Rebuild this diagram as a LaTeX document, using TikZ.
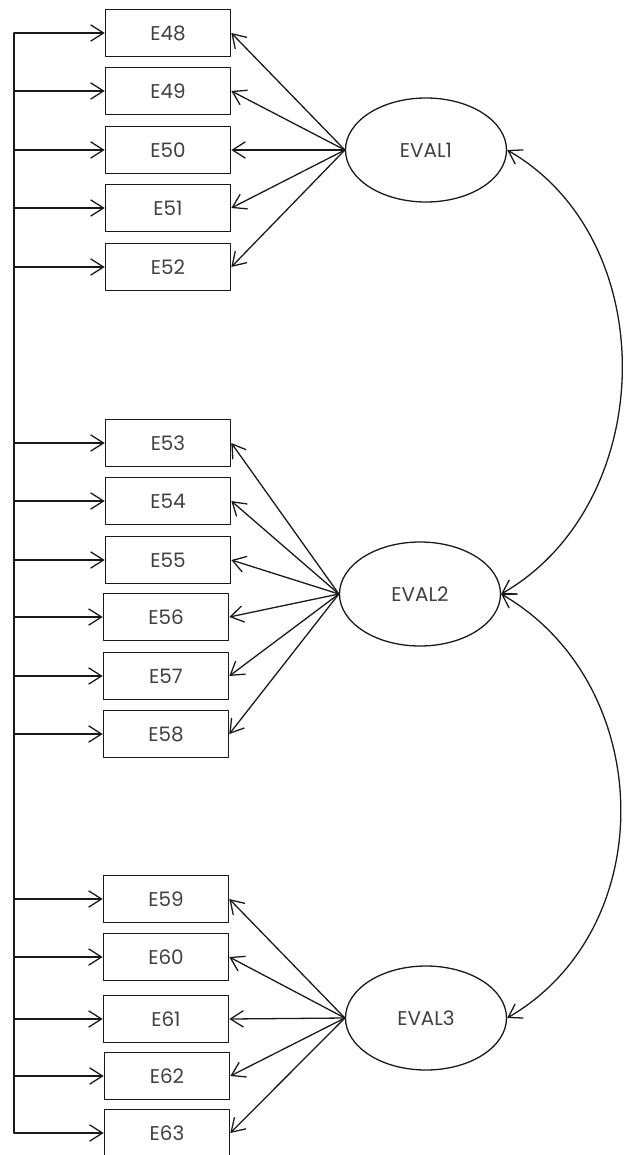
\documentclass[tikz,border=0pt]{standalone}
\usepackage{fontspec}
\setmainfont{Poppins}
\usetikzlibrary{arrows.meta,shapes.geometric}

\begin{document}
\begin{tikzpicture}
% Measurement model: three EVAL factors and their items
\def\pxsz{0.03cm}
\providecommand{\semLineColor}{black!90}
\providecommand{\semTextColor}{black!75}
\providecommand{\semLineWidth}{1.1pt}
\providecommand{\semBoxLineWidth}{1.4pt}
\tikzset{
  itembox/.style={draw=\semLineColor, line width=\semBoxLineWidth, rectangle,
    minimum width=3.75cm, minimum height=1.41cm, inner sep=0pt,
    text=\semTextColor, font=\fontsize{17}{20}\selectfont},
  factor/.style={draw=\semLineColor, line width=\semLineWidth, ellipse,
    minimum width=4.83cm, minimum height=3.12cm, inner sep=0pt,
    text=\semTextColor, font=\fontsize{17}{20}\selectfont},
  load/.style={draw=\semLineColor, line width=\semLineWidth,
    -{Straight Barb[length=11pt,width=14pt]}},
  covar/.style={draw=\semLineColor, line width=\semLineWidth,
    {Straight Barb[length=11pt,width=14pt]}-{Straight Barb[length=11pt,width=14pt]}}
}
\begin{scope}[x=\pxsz, y=-\pxsz, line cap=round, line join=round]
  \useasboundingbox (0,0) rectangle (640,1155);
  % Items, group 1
  \node[itembox] (E48) at (168,33) {E48};
  \node[itembox] (E49) at (168,91) {E49};
  \node[itembox] (E50) at (168,150) {E50};
  \node[itembox] (E51) at (168,208) {E51};
  \node[itembox] (E52) at (168,267) {E52};
  % Items, group 2
  \node[itembox] (E53) at (168,443) {E53};
  \node[itembox] (E54) at (168,501) {E54};
  \node[itembox] (E55) at (168,560) {E55};
  \node[itembox] (E56) at (166,617) {E56};
  \node[itembox] (E57) at (166,676) {E57};
  \node[itembox] (E58) at (166,734) {E58};
  % Items, group 3
  \node[itembox] (E59) at (166,899) {E59};
  \node[itembox] (E60) at (166,957) {E60};
  \node[itembox] (E61) at (166,1019) {E61};
  \node[itembox] (E62) at (167,1076) {E62};
  \node[itembox] (E63) at (167,1133) {E63};
  % Factors
  \node[factor] (EVAL1) at (426,150) {EVAL1};
  \node[factor] (EVAL2) at (420,594) {EVAL2};
  \node[factor] (EVAL3) at (426,1018) {EVAL3};
  % Error trunk on the left
  \coordinate (trunk) at (14,0);
  \draw[draw=\semLineColor, line width=\semLineWidth] (E48.west -| trunk) -- (E63.west -| trunk);
  \draw[load] (E48.west -| trunk) -- (E48.west);
  \draw[load] (E49.west -| trunk) -- (E49.west);
  \draw[load] (E50.west -| trunk) -- (E50.west);
  \draw[load] (E51.west -| trunk) -- (E51.west);
  \draw[load] (E52.west -| trunk) -- (E52.west);
  \draw[load] (E53.west -| trunk) -- (E53.west);
  \draw[load] (E54.west -| trunk) -- (E54.west);
  \draw[load] (E55.west -| trunk) -- (E55.west);
  \draw[load] (E56.west -| trunk) -- (E56.west);
  \draw[load] (E57.west -| trunk) -- (E57.west);
  \draw[load] (E58.west -| trunk) -- (E58.west);
  \draw[load] (E59.west -| trunk) -- (E59.west);
  \draw[load] (E60.west -| trunk) -- (E60.west);
  \draw[load] (E61.west -| trunk) -- (E61.west);
  \draw[load] (E62.west -| trunk) -- (E62.west);
  \draw[load] (E63.west -| trunk) -- (E63.west);
  % Loadings
  \draw[load] (EVAL1.west) -- (E48.east);
  \draw[load] (EVAL1.west) -- (E49.east);
  \draw[load] (EVAL1.west) -- (E50.east);
  \draw[load] (EVAL1.west) -- (E51.east);
  \draw[load] (EVAL1.west) -- (E52.east);
  \draw[load] (EVAL2.west) -- (E53.east);
  \draw[load] (EVAL2.west) -- (E54.east);
  \draw[load] (EVAL2.west) -- (E55.east);
  \draw[load] (EVAL2.west) -- (E56.east);
  \draw[load] (EVAL2.west) -- (E57.east);
  \draw[load] (EVAL2.west) -- (E58.east);
  \draw[load] (EVAL3.west) -- (E59.east);
  \draw[load] (EVAL3.west) -- (E60.east);
  \draw[load] (EVAL3.west) -- (E61.east);
  \draw[load] (EVAL3.west) -- (E62.east);
  \draw[load] (EVAL3.west) -- (E63.east);
  % Factor covariances
  \draw[covar] (EVAL1.east) .. controls +(157,90) and +(157,-90) .. (EVAL2.east);
  \draw[covar] (EVAL2.east) .. controls +(155,90) and +(155,-90) .. (EVAL3.east);
\end{scope}
\end{tikzpicture}
\end{document}
